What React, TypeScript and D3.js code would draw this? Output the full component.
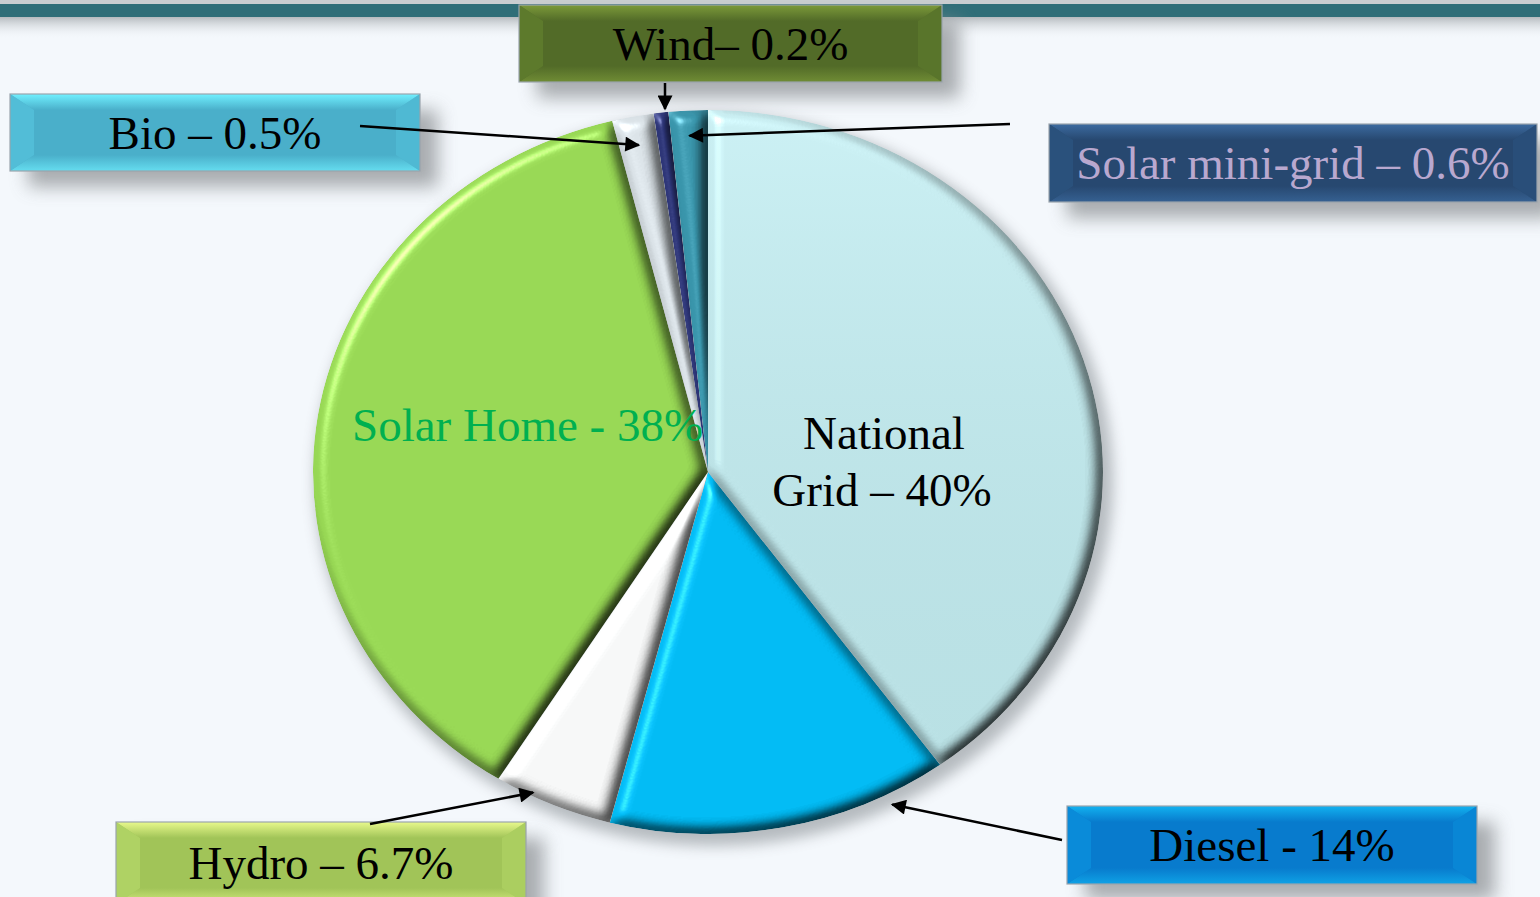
import * as d3 from "d3";

// slice sizes as drawn in the pie (clockwise from 12 o'clock)
const sources = ["National Grid", "Diesel", "Hydro", "Solar Home", "Bio", "Wind", "Solar mini-grid"];
const shares = [40, 14, 4.9, 37.2, 1.7, 0.6, 1.6];
const sliceColors = ["#c2ecf0", "#00b9f2", "#f4f5f5", "#96d653", "#d9e1e6", "#2c3476", "#3894aa"];

// callout text
const calloutSources = ["Wind", "Bio", "Solar mini-grid", "Hydro", "Diesel"];
const calloutText = ["Wind– 0.2%", "Bio – 0.5%", "Solar mini-grid – 0.6%", "Hydro – 6.7%", "Diesel - 14%"];

const W = 1540;
const H = 897;
const cx = 708;
const cy = 472;
const rx = 395;
const ry = 362;
const FS = 47;

// box layout + where the arrow leaves the box and where it lands on its slice
const boxes = [
    { x: 519, y: 5, w: 423, h: 77, face: "#526b28", top: "#7c9a3a", side: "#5f7c2d", text: "#000", ax: 665, ay: 83, t: 0.5, r: 1.01, vertical: true },
    { x: 10, y: 94, w: 410, h: 77, face: "#4aafca", top: "#70f0ff", side: "#54c0d9", text: "#000", ax: 360, ay: 126, t: 0.5, r: 0.92, vertical: false },
    { x: 1049, y: 124, w: 488, h: 78, face: "#274870", top: "#3c6ba0", side: "#2c547e", text: "#b9a8cf", ax: 1010, ay: 124, t: 0.5, r: 0.93, vertical: false },
    { x: 116, y: 822, w: 410, h: 82, face: "#a1c458", top: "#e8f98c", side: "#b2d566", text: "#000", ax: 370, ay: 824, t: 0.69, r: 0.99, vertical: false },
    { x: 1067, y: 806, w: 410, h: 78, face: "#087bcd", top: "#12b2f0", side: "#0a8edb", text: "#000", ax: 1062, ay: 840, t: 0.18, r: 1.03, vertical: false },
];

function Box({ b, label }: { b: typeof boxes[number]; label: string }) {
    const bw = 24, bh = 16;
    const { x, y, w, h } = b;
    const left = `${x},${y} ${x + bw},${y + bh} ${x + bw},${y + h - bh} ${x},${y + h}`;
    const right = `${x + w},${y} ${x + w - bw},${y + bh} ${x + w - bw},${y + h - bh} ${x + w},${y + h}`;
    const top = `${x},${y} ${x + w},${y} ${x + w - bw},${y + bh} ${x + bw},${y + bh}`;
    const bottom = `${x},${y + h} ${x + w},${y + h} ${x + w - bw},${y + h - bh} ${x + bw},${y + h - bh}`;
    const gid = "g" + Math.round(x) + "_" + Math.round(y);
    return (
        <g>
            <defs>
                <linearGradient id={gid + "t"} x1="0" y1="0" x2="0" y2="1">
                    <stop offset="0" stopColor={b.top} />
                    <stop offset="1" stopColor={b.face} />
                </linearGradient>
                <linearGradient id={gid + "b"} x1="0" y1="1" x2="0" y2="0">
                    <stop offset="0" stopColor={b.top} />
                    <stop offset="1" stopColor={b.face} />
                </linearGradient>
            </defs>
            <rect x={x + 18} y={y + 16} width={w} height={h} fill="#8f9396" opacity={0.75} filter="url(#soft)" />
            <rect x={x} y={y} width={w} height={h} fill={b.face} />
            <polygon points={top} fill={`url(#${gid}t)`} />
            <polygon points={bottom} fill={`url(#${gid}b)`} opacity={0.7} />
            <polygon points={left} fill={b.side} opacity={0.85} />
            <polygon points={right} fill={b.side} opacity={0.6} />
            <rect x={x} y={y} width={w} height={h} fill="none" stroke="#9aa4ac" strokeWidth={1.2} />
            <text x={x + w / 2} y={y + h / 2 + 16} textAnchor="middle" fontSize={FS} fill={b.text}
                fontFamily="'Liberation Serif', 'Times New Roman', serif">{label}</text>
        </g>
    );
}

export default function App() {
    const pie = d3.pie<number>().sort(null).value(d => d);
    const arcs = pie(shares);
    const arc = d3.arc<d3.PieArcDatum<number>>().innerRadius(0).outerRadius(rx);
    const k = ry / rx;

    const pointAt = (a: number, r: number) => [cx + Math.sin(a) * rx * r, cy - Math.cos(a) * ry * r];

    return (
        <div style={{ position: "absolute", left: 0, top: 0 }}>
            <svg width={W} height={H} style={{ display: "block" }}>
                <defs>
                    <filter id="soft" x="-20%" y="-40%" width="140%" height="180%">
                        <feGaussianBlur stdDeviation="9" />
                    </filter>
                    <filter id="pieShadow" x="-10%" y="-10%" width="120%" height="120%">
                        <feGaussianBlur stdDeviation="7" />
                    </filter>
                    <filter id="bevel" x="-5%" y="-5%" width="110%" height="110%" colorInterpolationFilters="sRGB">
                        <feGaussianBlur in="SourceAlpha" stdDeviation="7" result="blur" />
                        <feDiffuseLighting in="blur" surfaceScale="9" diffuseConstant="1.155" lightingColor="#fff" result="diff">
                            <feDistantLight azimuth="225" elevation="60" />
                        </feDiffuseLighting>
                        <feComposite in="SourceGraphic" in2="diff" operator="arithmetic" k1="1" k2="0" k3="0" k4="0" result="shaded" />
                        <feSpecularLighting in="blur" surfaceScale="9" specularConstant="0.7" specularExponent="35" lightingColor="#fff" result="spec">
                            <feDistantLight azimuth="225" elevation="40" />
                        </feSpecularLighting>
                        <feComposite in="spec" in2="SourceAlpha" operator="in" result="specIn" />
                        <feComposite in="shaded" in2="specIn" operator="arithmetic" k1="0" k2="1" k3="0.55" k4="0" result="lit" />
                        <feComposite in="lit" in2="SourceAlpha" operator="in" />
                    </filter>
                    <linearGradient id="gridShade" x1="0" y1="0" x2="0" y2="1">
                        <stop offset="0" stopColor="#fff" stopOpacity={0.12} />
                        <stop offset="1" stopColor="#000" stopOpacity={0.06} />
                    </linearGradient>
                    <linearGradient id="barShadow" x1="0" y1="0" x2="0" y2="1">
                        <stop offset="0" stopColor="#9aa0a4" stopOpacity={0.7} />
                        <stop offset="1" stopColor="#f4f8fb" stopOpacity={0} />
                    </linearGradient>
                    <marker id="arrow" viewBox="0 0 10 10" refX="9" refY="5" markerWidth="6.5" markerHeight="6" orient="auto">
                        <path d="M0,0 L10,5 L0,10 z" fill="#000" />
                    </marker>
                </defs>

                {/* background + header band */}
                <rect width={W} height={H} fill="#f4f8fc" />
                <rect x={0} y={17} width={W} height={22} fill="url(#barShadow)" />
                <rect x={0} y={0} width={W} height={4} fill="#c9cdd0" />
                <rect x={0} y={4} width={W} height={13} fill="#2f6e78" />

                {/* pie */}
                <ellipse cx={cx + 6} cy={cy + 8} rx={rx + 4} ry={ry + 4} fill="#6b7176" opacity={0.45} filter="url(#pieShadow)" />
                <g transform={`translate(${cx},${cy}) scale(1,${k})`}>
                    {arcs.map((a, i) => (
                        <path key={sources[i]} d={arc(a) ?? ""} fill={sliceColors[i]} filter="url(#bevel)" />
                    ))}
                    <path d={arc(arcs[0]) ?? ""} fill="url(#gridShade)" />
                </g>

                {/* labels inside the pie */}
                <text x={352} y={441} fontSize={FS} fill="#00b050" fontFamily="'Liberation Serif', serif">Solar Home - 38%</text>
                <text textAnchor="middle" fontSize={FS} fill="#000" fontFamily="'Liberation Serif', serif">
                    <tspan x={884} y={449}>National</tspan>
                    <tspan x={882} y={506}>Grid – 40%</tspan>
                </text>

                {/* callouts */}
                {boxes.map((b, i) => <Box key={calloutText[i]} b={b} label={calloutText[i]} />)}
                {boxes.map((b, i) => {
                    const a = arcs[sources.indexOf(calloutSources[i])];
                    const ang = a.startAngle + (a.endAngle - a.startAngle) * b.t;
                    const [tx, ty] = pointAt(ang, b.r);
                    const x2 = b.vertical ? b.ax : tx;
                    return <line key={"l" + i} x1={b.ax} y1={b.ay} x2={x2} y2={ty} stroke="#000" strokeWidth={2.5} markerEnd="url(#arrow)" />;
                })}
            </svg>
        </div>
    );
}
